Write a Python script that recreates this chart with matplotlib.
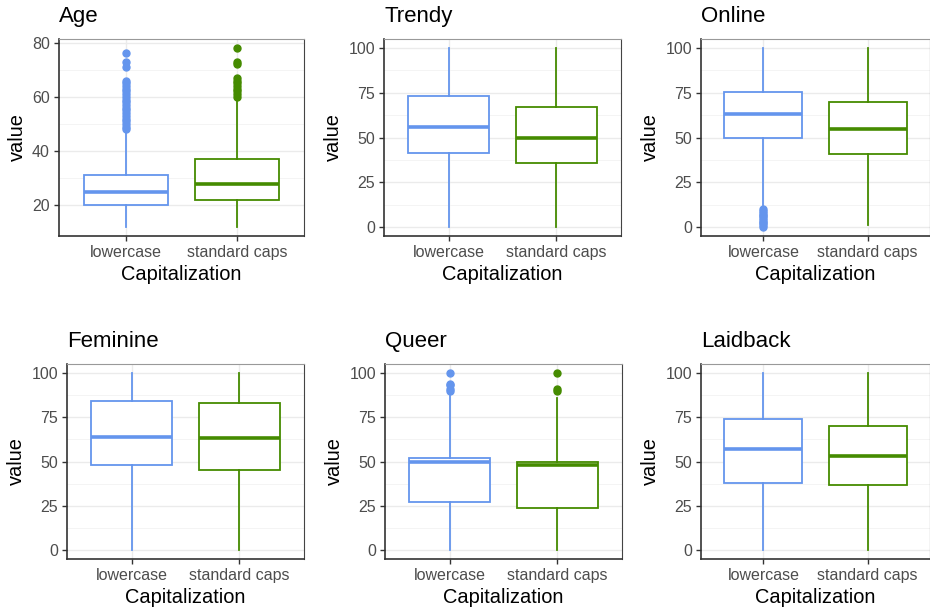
import matplotlib
matplotlib.use("Agg")
import matplotlib.pyplot as plt

# Panels and groups
panels = ["Age", "Trendy", "Online", "Feminine", "Queer", "Laidback"]
groups = ["lowercase", "standard caps"]
colors = ["#6495ED", "#458B00"]

# Box stats per panel: (whisker low, q1, median, q3, whisker high)
lower_stats = {
    "Age":      (12, 20, 25, 31, 47),
    "Trendy":   (0, 41.5, 56, 73, 100),
    "Online":   (11, 50, 63, 75.5, 100),
    "Feminine": (0, 48, 64, 84, 100),
    "Queer":    (0, 27, 50, 52, 88),
    "Laidback": (0, 38, 57, 74, 100),
}
caps_stats = {
    "Age":      (12, 22, 28, 37, 59),
    "Trendy":   (0, 36, 50, 67, 100),
    "Online":   (1, 41, 55, 70, 100),
    "Feminine": (0, 45, 63, 83, 100),
    "Queer":    (0, 24, 48, 50, 86),
    "Laidback": (0, 37, 53, 70, 100),
}
# Outliers
lower_fliers = {
    "Age": list(range(48, 67)) + [71, 73, 76],
    "Trendy": [],
    "Online": list(range(0, 11)),
    "Feminine": [],
    "Queer": [90, 91, 93, 94, 100],
    "Laidback": [],
}
caps_fliers = {
    "Age": list(range(60, 68)) + [72, 73, 78],
    "Trendy": [],
    "Online": [],
    "Feminine": [],
    "Queer": [90, 91, 100],
    "Laidback": [],
}
yticks = {"Age": [20, 40, 60, 80]}
default_ticks = [0, 25, 50, 75, 100]

# Axes boxes in pixels: left, top, right, bottom
boxes = {
    "Age":      (59, 39, 304, 236),
    "Trendy":   (384, 39, 621, 236),
    "Online":   (701, 39, 930, 236),
    "Feminine": (67, 364, 304, 559),
    "Queer":    (385, 364, 622, 559),
    "Laidback": (701, 364, 930, 559),
}

plt.rcParams['font.family'] = ['Liberation Sans', 'DejaVu Sans']
W, H = 930, 608
fig = plt.figure(figsize=(W / 100, H / 100), dpi=100)

for name in panels:
    l, t, r, b = boxes[name]
    ax = fig.add_axes([l / W, 1 - b / H, (r - l) / W, (b - t) / H])

    stats = []
    for s, f in ((lower_stats[name], lower_fliers[name]), (caps_stats[name], caps_fliers[name])):
        stats.append(dict(whislo=s[0], q1=s[1], med=s[2], q3=s[3], whishi=s[4], fliers=f))

    for i, (st, c) in enumerate(zip(stats, colors)):
        ax.bxp([st], positions=[i + 1], widths=0.75, patch_artist=True, showcaps=False,
               boxprops=dict(facecolor="white", edgecolor=c, linewidth=1.3),
               whiskerprops=dict(color=c, linewidth=1.3),
               medianprops=dict(color=c, linewidth=2.6, solid_capstyle="butt"),
               flierprops=dict(marker="o", markerfacecolor=c, markeredgecolor=c, markersize=5),
               zorder=3)

    # y range with ggplot-style 5% expansion
    vals = []
    for st in stats:
        vals += [st["whislo"], st["whishi"]] + list(st["fliers"])
    lo, hi = min(vals), max(vals)
    pad = (hi - lo) * 0.05
    ax.set_ylim(lo - pad, hi + pad)
    ax.set_xlim(0.4, 2.6)

    ticks = yticks.get(name, default_ticks)
    ax.set_yticks(ticks)
    ax.set_yticks([(a + c) / 2 for a, c in zip(ticks[:-1], ticks[1:])], minor=True)
    ax.set_xticks([1, 2])
    ax.set_xticklabels(groups)

    ax.grid(True, which="major", color="#EBEBEB", linewidth=1.0, zorder=0)
    ax.grid(True, which="minor", axis="y", color="#F3F3F3", linewidth=0.6, zorder=0)
    ax.set_axisbelow(True)

    ax.tick_params(axis="both", which="major", labelsize=11.5, labelcolor="#4D4D4D",
                   color="#333333", length=3.5, width=1.0, pad=3)
    ax.tick_params(axis="y", which="minor", length=0)

    for side in ["left", "bottom"]:
        ax.spines[side].set_color("#333333")
        ax.spines[side].set_linewidth(1.2)
    ax.spines["right"].set_color("#444444")
    ax.spines["top"].set_color("#999999")

    ax.set_xlabel("Capitalization", fontsize=14.4, labelpad=3.5)
    ax.set_ylabel("value", fontsize=14.4, labelpad=4)
    ax.set_title(name, loc="left", fontsize=16, pad=12)

fig.savefig("out.png", dpi=100)
